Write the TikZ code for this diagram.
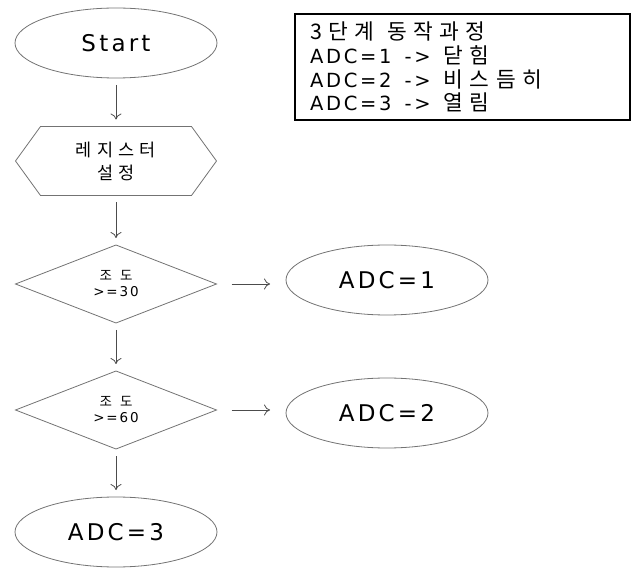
\documentclass[tikz,border=0pt]{standalone}
\usepackage{fontspec}
\setmainfont{DejaVu Sans}[LetterSpace=14]
\newfontfamily\kofont{Noto Sans CJK KR}[LetterSpace=30]
\newfontfamily\kobig{Noto Sans CJK KR}[Scale=1.1, LetterSpace=30]
\newfontfamily\kowide{Noto Sans CJK KR}[LetterSpace=60]
\newcommand\memofont{\fontsize{19.5}{23.7}\selectfont}
\newcommand\gap{\hspace{13pt}}
\usetikzlibrary{arrows.meta,shapes.geometric}

\begin{document}
\begin{tikzpicture}[
  x=1pt, y=-1pt,
  line/.style={draw=black!55, line width=0.8pt},
  term/.style={ellipse, line, minimum width=202pt, minimum height=70pt,
               inner sep=0pt, outer sep=0pt, font=\fontsize{23}{27}\selectfont},
  prep/.style={rectangle, minimum width=201pt, minimum height=69pt,
               inner sep=0pt, outer sep=0pt, align=center,
               font=\fontsize{17.5}{23}\selectfont\kofont},
  cond/.style={diamond, line, minimum width=201pt, minimum height=78pt,
               inner sep=0pt, outer sep=0pt, align=center,
               font=\fontsize{13.5}{16}\selectfont},
  memo/.style={rectangle, draw=black, line width=2.5pt, minimum height=106pt,
               inner xsep=15pt, text width=305pt, align=left, font=\memofont},
  ar/.style={-{To[length=6pt,width=11pt]}, draw=black!70, line width=0.8pt,
             shorten <=7pt, shorten >=7pt},
]

\useasboundingbox (0,0) rectangle (635,569);

% flow
\node[term] (start) at (116,43) {Start};
\node[prep] (reg)   at (116,161) {레지스터\\설정};
\draw[line] ([xshift=25pt]reg.north west) -- ([xshift=-25pt]reg.north east)
  -- (reg.east) -- ([xshift=-25pt]reg.south east)
  -- ([xshift=25pt]reg.south west) -- (reg.west) -- cycle;

\node[cond] (cond1) at (116,284) {{\kowide 조도}\\>=30};
\node[cond] (cond2) at (116,410) {{\kowide 조도}\\>=60};

\node[term] (adc1) at (387,280) {ADC=1};
\node[term] (adc2) at (387,413) {ADC=2};
\node[term] (adc3) at (116,532) {ADC=3};

% legend
\node[memo] (memo) at (462.5,67)
  {{\kobig 3단계\gap 동작과정}\\
   ADC=1\gap->\gap{\kobig 닫힘}\\
   ADC=2\gap->\gap{\kobig 비스듬히}\\
   ADC=3\gap->\gap{\kobig 열림}};

\draw[ar] (start) -- (reg);
\draw[ar] (reg) -- (cond1);
\draw[ar] (cond1) -- (cond2);
\draw[ar] (cond2) -- (adc3);

\draw[ar, shorten <=15pt, shorten >=16pt] (cond1.east) -- (cond1.east -| adc1.west);
\draw[ar, shorten <=15pt, shorten >=16pt] (cond2.east) -- (cond2.east -| adc2.west);

\end{tikzpicture}
\end{document}
